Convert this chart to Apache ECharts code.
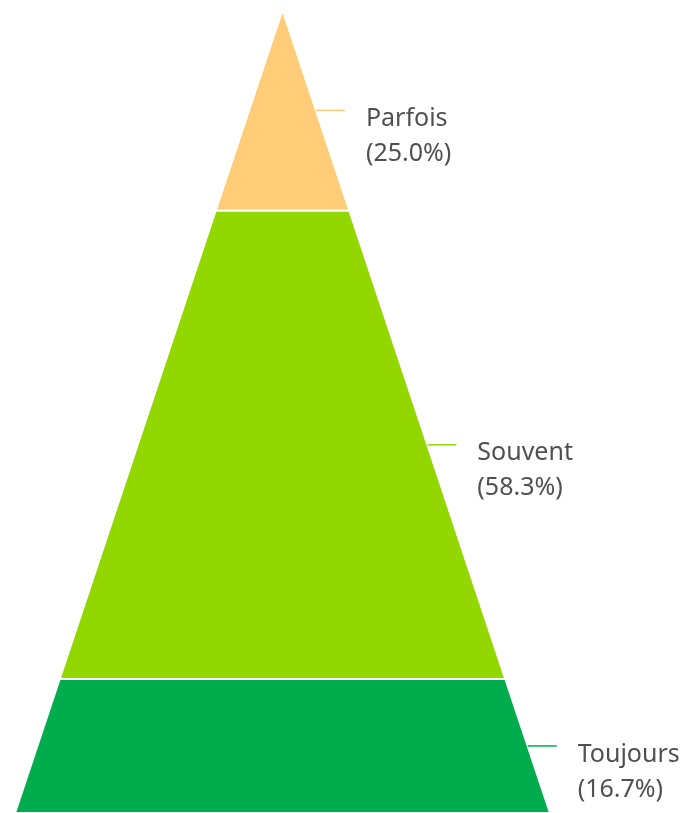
<!DOCTYPE html>
<html>
<head>
<meta charset="utf-8">
<script src="https://cdn.jsdelivr.net/npm/echarts@6/dist/echarts.min.js"></script>
<style>
	html, body { margin: 0; padding: 0; background: #fff; }
	#chart { width: 692px; height: 813px; }
</style>
</head>
<body>
<div id="chart"></div>
<script>
	// pyramid, top to bottom
	var categories = ['Parfois', 'Souvent', 'Toujours'];
	var values = [25.0, 58.3, 16.7];
	var colors = ['#FFCC77', '#92D800', '#00AC4C'];

	var total = values.reduce(function (a, b) { return a + b; }, 0);
	var rows = [];
	var acc = 0;
	for (var i = 0; i < values.length; i++) {
		rows.push([acc, acc + values[i], values[i] / total * 100, i]);
		acc += values[i];
	}

	var chart = echarts.init(document.getElementById('chart'));

	var option = {
		animation: false,
		grid: { left: 15, top: 10, width: 535, height: 803 },
		xAxis: { type: 'value', min: -1, max: 1, show: false },
		yAxis: { type: 'value', min: 0, max: total, inverse: true, show: false },
		series: [{
			type: 'custom',
			data: rows,
			renderItem: function (params, api) {
				var s = api.value(0), e = api.value(1), pct = api.value(2), idx = api.value(3);
				var p1 = api.coord([-s / total, s]);
				var p2 = api.coord([s / total, s]);
				var p3 = api.coord([e / total, e]);
				var p4 = api.coord([-e / total, e]);
				var m = (s + e) / 2;
				var edge = api.coord([m / total, m]);
				var lineEnd = [edge[0] + 29, edge[1]];
				return {
					type: 'group',
					children: [{
						type: 'polygon',
						shape: { points: [p1, p2, p3, p4] },
						style: { fill: colors[idx], stroke: '#fff', lineWidth: 2 }
					}, {
						type: 'line',
						shape: { x1: edge[0], y1: edge[1], x2: lineEnd[0], y2: lineEnd[1] },
						style: { stroke: colors[idx], lineWidth: 1.5 }
					}, {
						type: 'text',
						x: lineEnd[0] + 21,
						y: edge[1] + 26,
						style: {
							text: categories[idx] + '\n(' + pct.toFixed(1) + '%)',
							fill: '#505050',
							font: '25px "Noto Sans"',
							lineHeight: 35,
							align: 'left',
							verticalAlign: 'middle'
						}
					}]
				};
			}
		}]
	};

	chart.setOption(option);
</script>
</body>
</html>
